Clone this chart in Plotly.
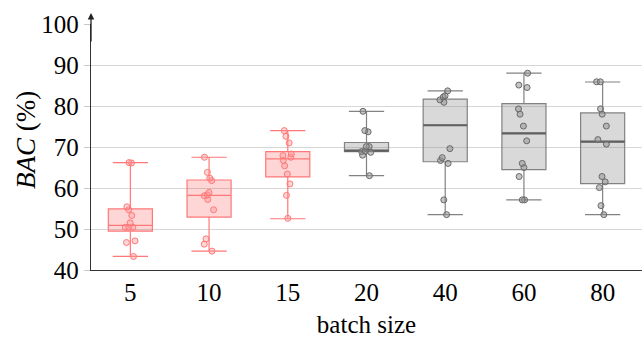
import plotly.graph_objects as go

categories = ["5", "10", "15", "20", "40", "60", "80"]

points = {
    "5":  [66.1, 66.2, 55.4, 54.7, 53.3, 51.5, 50.4, 50.4, 50.4, 47.1, 46.7, 43.3],
    "10": [67.5, 63.8, 62.4, 61.8, 58.9, 58.3, 58.1, 57.2, 54.7, 47.6, 46.3, 44.6],
    "15": [74.0, 72.6, 71.0, 68.3, 67.9, 67.5, 66.7, 65.4, 63.4, 61.0, 58.2, 52.6],
    "20": [78.7, 74.0, 73.7, 70.1, 70.1, 69.0, 68.9, 68.7, 68.0, 63.0],
    "40": [83.7, 82.5, 82.2, 81.5, 80.9, 69.6, 67.4, 66.7, 66.0, 57.1, 53.5],
    "60": [88.0, 85.1, 84.5, 79.3, 78.0, 75.1, 71.5, 66.0, 65.0, 62.8, 57.1, 57.1],
    "80": [85.9, 85.9, 79.3, 78.0, 75.1, 71.8, 70.7, 62.8, 61.5, 60.1, 55.7, 53.5],
}

q1 =         [49.5, 52.9, 62.7, 68.85, 66.4, 64.5, 61.05]
median =     [50.9, 58.2, 67.1, 69.1, 75.3, 73.3, 71.3]
q3 =         [54.9, 61.95, 68.85, 71.1, 81.7, 80.6, 78.3]
lowerfence = [43.3, 44.6, 52.5, 63.0, 53.5, 57.1, 53.5]
upperfence = [66.2, 67.5, 74.0, 78.7, 83.7, 88.0, 85.85]

red_groups = categories[:3]
gray_groups = categories[3:]

RED_FILL = "rgba(255,0,0,0.16)"
RED_LINE = "rgb(255,120,120)"
RED_PT_FILL = "rgba(255,150,150,0.4)"
GRAY_FILL = "rgba(128,128,128,0.3)"
GRAY_LINE = "rgb(130,130,130)"
GRAY_MED = "rgb(95,95,95)"
GRAY_PT_FILL = "rgba(150,150,150,0.55)"
GRAY_PT_LINE = "rgb(105,105,105)"

FONT = "Liberation Serif, Times New Roman, serif"

fig = go.Figure()

def idx(cats):
    return [categories.index(c) for c in cats]

for cats, fill, line in [(red_groups, RED_FILL, RED_LINE), (gray_groups, GRAY_FILL, GRAY_LINE)]:
    ii = idx(cats)
    fig.add_trace(go.Box(
        x=cats,
        q1=[q1[i] for i in ii], median=[median[i] for i in ii], q3=[q3[i] for i in ii],
        lowerfence=[lowerfence[i] for i in ii], upperfence=[upperfence[i] for i in ii],
        fillcolor=fill, line=dict(color=line, width=1.2), whiskerwidth=0.8,
        boxpoints=False, hoverinfo="skip", showlegend=False,
    ))

# darker median lines for gray boxes
ii = idx(gray_groups)
fig.add_trace(go.Box(
    x=gray_groups,
    q1=[median[i] for i in ii], median=[median[i] for i in ii], q3=[median[i] for i in ii],
    lowerfence=[median[i] for i in ii], upperfence=[median[i] for i in ii],
    fillcolor="rgba(0,0,0,0)", line=dict(color=GRAY_MED, width=2.2), whiskerwidth=0,
    boxpoints=False, hoverinfo="skip", showlegend=False,
))

# jittered points
for cats, pfill, pline in [(red_groups, RED_PT_FILL, RED_LINE), (gray_groups, GRAY_PT_FILL, GRAY_PT_LINE)]:
    xs, ys = [], []
    for c in cats:
        xs += [c] * len(points[c])
        ys += points[c]
    fig.add_trace(go.Box(
        x=xs, y=ys, boxpoints="all", jitter=0.28, pointpos=0,
        fillcolor="rgba(0,0,0,0)", line=dict(color="rgba(0,0,0,0)", width=0),
        marker=dict(size=6, color=pfill, line=dict(color=pline, width=1)),
        hoverinfo="skip", showlegend=False,
    ))

fig.update_layout(
    width=644, height=338,
    margin=dict(l=91, r=2, t=24, b=68),
    paper_bgcolor="white", plot_bgcolor="white",
    boxmode="overlay", boxgap=0.2,
    font=dict(family=FONT, size=25, color="black"),
    showlegend=False,
    xaxis=dict(
        type="category", categoryorder="array", categoryarray=categories,
        showgrid=False, showline=True, linecolor="#333", linewidth=1.3,
        ticks="", tickfont=dict(family=FONT, size=25),
        title=dict(text="batch size", font=dict(family=FONT, size=25), standoff=16),
        zeroline=False, automargin=False,
    ),
    yaxis=dict(
        range=[40, 100], tickvals=[40, 50, 60, 70, 80, 90, 100],
        showgrid=True, gridcolor="rgb(215,215,215)", gridwidth=1,
        showline=True, linecolor="#333", linewidth=1.3,
        ticks="outside", ticklen=6, tickcolor="rgb(200,200,200)",
        tickfont=dict(family=FONT, size=25),
        zeroline=False, automargin=False,
    ),
    annotations=[
        dict(
            xref="paper", yref="paper", x=0, y=1 + 11 / 246,
            ax=0, ay=30, axref="pixel", ayref="pixel",
            showarrow=True, arrowhead=2, arrowsize=1, arrowwidth=1.3,
            arrowcolor="#222", text="", standoff=0,
        ),
        dict(
            xref="paper", yref="paper", x=(26 - 91) / 551, y=0.5 + 7 / 246,
            xanchor="center", yanchor="middle", textangle=-90, showarrow=False,
            text="<i>BAC</i> (%)", font=dict(family=FONT, size=27, color="black"),
        ),
    ],
)

fig.write_html(
    "out.html",
    config={"displayModeBar": False},
    post_script="document.body.style.margin='0';document.body.style.padding='0';document.body.style.overflow='hidden';",
)
